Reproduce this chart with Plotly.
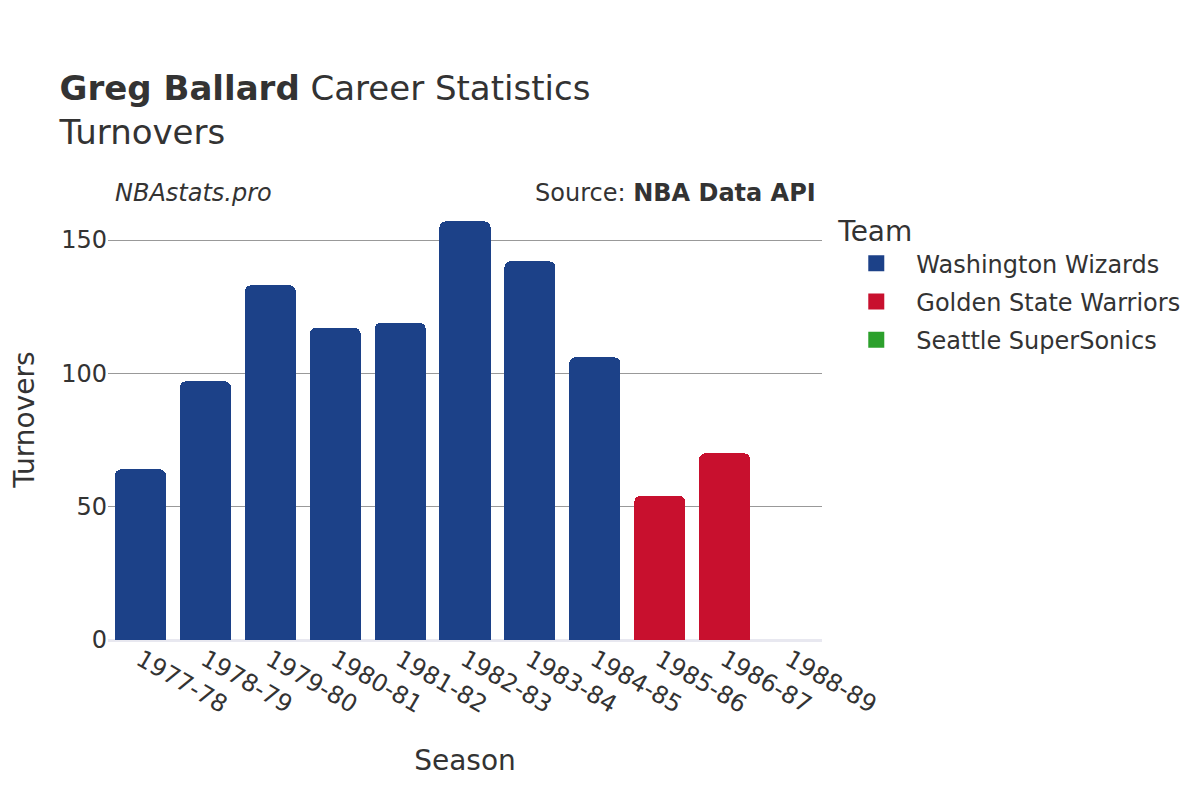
import plotly.graph_objects as go

seasons = ["1977-78", "1978-79", "1979-80", "1980-81", "1981-82", "1982-83",
           "1983-84", "1984-85", "1985-86", "1986-87", "1988-89"]
teams = ["Washington Wizards", "Washington Wizards", "Washington Wizards", "Washington Wizards",
         "Washington Wizards", "Washington Wizards", "Washington Wizards", "Washington Wizards",
         "Golden State Warriors", "Golden State Warriors", "Seattle SuperSonics"]
turnovers = [64, 97, 133, 117, 119, 157, 142, 106, 54, 70, 0]

team_order = ["Washington Wizards", "Golden State Warriors", "Seattle SuperSonics"]
team_colors = {"Washington Wizards": "#1C4188",
               "Golden State Warriors": "#C8102E",
               "Seattle SuperSonics": "#2CA02C"}

fig = go.Figure()
for team in team_order:
    xs = [s for s, t in zip(seasons, teams) if t == team]
    ys = [v for v, t in zip(turnovers, teams) if t == team]
    fig.add_trace(go.Bar(x=xs, y=ys, name=team, marker_color=team_colors[team],
                         marker_line_width=0, legendgroup=team, showlegend=False))
    # legend entry with a larger square swatch
    fig.add_trace(go.Scatter(x=[None], y=[None], mode="markers", name=team,
                             legendgroup=team, showlegend=True,
                             marker=dict(symbol="square", size=22,
                                         color=team_colors[team])))

font_family = "DejaVu Sans"
fig.update_layout(
    width=1200, height=800,
    font=dict(family=font_family, color="#333333"),
    paper_bgcolor="white", plot_bgcolor="white",
    barmode="stack", bargap=0.214, barcornerradius=6,
    margin=dict(l=100, r=386, t=192, b=168),
    title=dict(text="<b>Greg Ballard</b> Career Statistics<br>Turnovers",
               x=0.043, xanchor="left", y=0.885, yanchor="top",
               font=dict(size=34, color="#333333")),
    legend=dict(title=dict(text="Team", font=dict(size=28)), font=dict(size=24),
                x=1.02, xanchor="left", y=0.989, yanchor="top",
                itemsizing="trace", itemwidth=70, tracegroupgap=4,
                traceorder="grouped"),
    xaxis=dict(title=dict(text="Season", font=dict(size=28), standoff=32), type="category",
               categoryorder="array", categoryarray=seasons, automargin=False,
               tickangle=30, tickfont=dict(size=24), showgrid=False),
    yaxis=dict(automargin=False,
               tickfont=dict(size=24), gridcolor="#999999", gridwidth=1,
               zeroline=True, zerolinecolor="#e8e8f0", zerolinewidth=3,
               tickvals=[0, 50, 100, 150], range=[0, 165]),
    annotations=[
        dict(text="Turnovers", xref="paper", yref="paper", x=-0.118, y=0.5,
             xanchor="center", yanchor="middle", textangle=-90, showarrow=False,
             font=dict(size=28, color="#333333")),
        dict(text="<i>NBAstats.pro</i>", xref="paper", yref="paper", x=0.007, y=0.98,
             xanchor="left", yanchor="bottom", showarrow=False,
             font=dict(size=24, color="#333333")),
        dict(text="Source: <b>NBA Data API</b>", xref="paper", yref="paper", x=0.994, y=0.98,
             xanchor="right", yanchor="bottom", showarrow=False,
             font=dict(size=24, color="#333333")),
    ],
)

fig.write_html("out.html")
